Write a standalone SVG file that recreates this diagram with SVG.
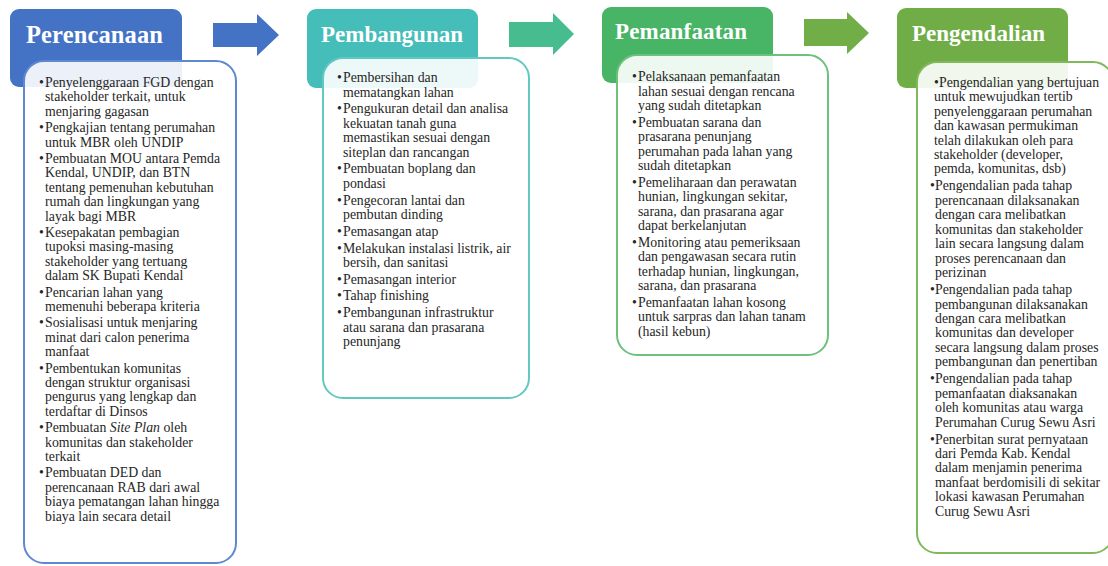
<svg xmlns="http://www.w3.org/2000/svg" width="1108" height="566" viewBox="0 0 1108 566">
<style>
.hd{font-family:"Liberation Serif","Times New Roman",serif;font-weight:bold;fill:#ffffff}
.t{font-family:"Liberation Serif","Times New Roman",serif;font-size:13.8px;fill:#262626}
.box{fill:#ffffff;fill-opacity:0.9;stroke-width:2}
</style>
<rect width="1108" height="566" fill="#ffffff"/>
<g id="connectors">
<polygon points="213,23 257,23 257,14 279,35 257,56 257,47 213,47" fill="#4472C4"/>
<polygon points="509,22 553,22 553,13 574,34 553,55 553,47 509,47" fill="#47BC8E"/>
<polygon points="804,19 847,19 847,12 869,33 847,54 847,46 804,46" fill="#72AE48"/>
</g>
<g id="perencanaan">
<rect x="10" y="9" width="172" height="78" rx="9" fill="#4472C4"/>
<text class="hd" x="26" y="43" font-size="24.5" textLength="137" lengthAdjust="spacing">Perencanaan</text>
<rect class="box" x="24" y="61" width="212" height="502" rx="20" stroke="#5F88D2"/>
<g class="t">
<text x="39" y="87">•</text><text x="45" y="87">Penyelenggaraan  FGD dengan</text>
<text x="45" y="101.4">stakeholder terkait, untuk</text>
<text x="45" y="115.8">menjaring gagasan</text>
<text x="39" y="132.2">•</text><text x="45" y="132.2">Pengkajian tentang perumahan</text>
<text x="45" y="146.6">untuk MBR oleh UNDIP</text>
<text x="39" y="163">•</text><text x="45" y="163">Pembuatan MOU antara Pemda</text>
<text x="45" y="177.4">Kendal, UNDIP, dan BTN</text>
<text x="45" y="191.8">tentang pemenuhan kebutuhan</text>
<text x="45" y="206.2">rumah dan lingkungan yang</text>
<text x="45" y="220.6">layak bagi MBR</text>
<text x="39" y="237">•</text><text x="45" y="237">Kesepakatan pembagian</text>
<text x="45" y="251.4">tupoksi masing-masing</text>
<text x="45" y="265.8">stakeholder yang tertuang</text>
<text x="45" y="280.2">dalam SK Bupati Kendal</text>
<text x="39" y="296.6">•</text><text x="45" y="296.6">Pencarian lahan yang</text>
<text x="45" y="311">memenuhi beberapa kriteria</text>
<text x="39" y="327.4">•</text><text x="45" y="327.4">Sosialisasi untuk menjaring</text>
<text x="45" y="341.8">minat dari calon penerima</text>
<text x="45" y="356.2">manfaat</text>
<text x="39" y="372.6">•</text><text x="45" y="372.6">Pembentukan komunitas</text>
<text x="45" y="387">dengan struktur organisasi</text>
<text x="45" y="401.4">pengurus yang lengkap dan</text>
<text x="45" y="415.8">terdaftar di Dinsos</text>
<text x="39" y="432.2">•</text><text x="45" y="432.2">Pembuatan <tspan font-style="italic">Site Plan</tspan> oleh</text>
<text x="45" y="446.6">komunitas dan stakeholder</text>
<text x="45" y="461">terkait</text>
<text x="39" y="477.4">•</text><text x="45" y="477.4">Pembuatan DED dan</text>
<text x="45" y="491.8">perencanaan RAB dari awal</text>
<text x="45" y="506.2">biaya pematangan lahan hingga</text>
<text x="45" y="520.6">biaya lain secara detail</text>
</g>
</g>
<g id="pembangunan">
<rect x="307" y="9" width="171" height="79" rx="9" fill="#45BDB9"/>
<text class="hd" x="321" y="41.5" font-size="23" textLength="142" lengthAdjust="spacing">Pembangunan</text>
<rect class="box" x="323" y="58" width="206" height="340" rx="20" stroke="#62C8C2"/>
<g class="t">
<text x="337" y="82">•</text><text x="343" y="82">Pembersihan dan</text>
<text x="343" y="96.5">mematangkan  lahan</text>
<text x="337" y="113.2">•</text><text x="343" y="113.2">Pengukuran detail dan analisa</text>
<text x="343" y="127.7">kekuatan tanah guna</text>
<text x="343" y="142.2">memastikan sesuai dengan</text>
<text x="343" y="156.7">siteplan dan rancangan</text>
<text x="337" y="173.4">•</text><text x="343" y="173.4">Pembuatan boplang dan</text>
<text x="343" y="187.9">pondasi</text>
<text x="337" y="204.6">•</text><text x="343" y="204.6">Pengecoran lantai dan</text>
<text x="343" y="219.1">pembutan dinding</text>
<text x="337" y="235.8">•</text><text x="343" y="235.8">Pemasangan atap</text>
<text x="337" y="252.5">•</text><text x="343" y="252.5">Melakukan instalasi listrik, air</text>
<text x="343" y="267">bersih, dan sanitasi</text>
<text x="337" y="283.7">•</text><text x="343" y="283.7">Pemasangan interior</text>
<text x="337" y="300.4">•</text><text x="343" y="300.4">Tahap finishing</text>
<text x="337" y="317.1">•</text><text x="343" y="317.1">Pembangunan infrastruktur</text>
<text x="343" y="331.6">atau sarana dan prasarana</text>
<text x="343" y="346.1">penunjang</text>
</g>
</g>
<g id="pemanfaatan">
<rect x="602" y="7" width="171" height="76" rx="9" fill="#48B466"/>
<text class="hd" x="615" y="38.5" font-size="23" textLength="132" lengthAdjust="spacing">Pemanfaatan</text>
<rect class="box" x="617" y="55" width="211" height="300" rx="20" stroke="#6CC27C"/>
<g class="t">
<text x="632" y="81">•</text><text x="638" y="81">Pelaksanaan pemanfaatan</text>
<text x="638" y="95.5">lahan sesuai dengan rencana</text>
<text x="638" y="110">yang  sudah ditetapkan</text>
<text x="632" y="126.5">•</text><text x="638" y="126.5">Pembuatan sarana dan</text>
<text x="638" y="141">prasarana penunjang</text>
<text x="638" y="155.5">perumahan pada lahan yang</text>
<text x="638" y="170">sudah ditetapkan</text>
<text x="632" y="186.5">•</text><text x="638" y="186.5">Pemeliharaan dan perawatan</text>
<text x="638" y="201">hunian, lingkungan sekitar,</text>
<text x="638" y="215.5">sarana, dan prasarana agar</text>
<text x="638" y="230">dapat berkelanjutan</text>
<text x="632" y="246.5">•</text><text x="638" y="246.5">Monitoring atau pemeriksaan</text>
<text x="638" y="261">dan pengawasan  secara rutin</text>
<text x="638" y="275.5">terhadap hunian, lingkungan,</text>
<text x="638" y="290">sarana, dan prasarana</text>
<text x="632" y="306.5">•</text><text x="638" y="306.5">Pemanfaatan lahan kosong</text>
<text x="638" y="321">untuk sarpras dan lahan tanam</text>
<text x="638" y="335.5">(hasil kebun)</text>
</g>
</g>
<g id="pengendalian">
<rect x="897" y="8" width="171" height="80" rx="9" fill="#70AD47"/>
<text class="hd" x="912" y="41" font-size="23" textLength="133" lengthAdjust="spacing">Pengendalian</text>
<rect class="box" x="917" y="62" width="196" height="491" rx="20" stroke="#80B95C"/>
<g class="t">
<text x="934" y="86.7">•</text><text x="939" y="86.7">Pengendalian yang  bertujuan</text>
<text x="934" y="101.2">untuk mewujudkan tertib</text>
<text x="934" y="115.6">penyelenggaraan  perumahan</text>
<text x="934" y="130.1">dan kawasan permukiman</text>
<text x="934" y="144.5">telah dilakukan oleh para</text>
<text x="934" y="159">stakeholder (developer,</text>
<text x="934" y="173.4">pemda, komunitas, dsb)</text>
<text x="930" y="190.4">•</text><text x="935" y="190.4">Pengendalian pada tahap</text>
<text x="935" y="204.8">perencanaan  dilaksanakan</text>
<text x="935" y="219.3">dengan cara melibatkan</text>
<text x="935" y="233.7">komunitas dan stakeholder</text>
<text x="935" y="248.2">lain secara langsung dalam</text>
<text x="935" y="262.6">proses perencanaan  dan</text>
<text x="935" y="277.1">perizinan</text>
<text x="930" y="294">•</text><text x="935" y="294">Pengendalian pada tahap</text>
<text x="935" y="308.5">pembangunan  dilaksanakan</text>
<text x="935" y="322.9">dengan cara melibatkan</text>
<text x="935" y="337.4">komunitas dan developer</text>
<text x="935" y="351.8">secara langsung dalam proses</text>
<text x="935" y="366.3">pembangunan  dan penertiban</text>
<text x="930" y="383.2">•</text><text x="935" y="383.2">Pengendalian pada tahap</text>
<text x="935" y="397.7">pemanfaatan  diaksanakan</text>
<text x="935" y="412.1">oleh komunitas atau warga</text>
<text x="935" y="426.6">Perumahan Curug Sewu Asri</text>
<text x="930" y="443.5">•</text><text x="935" y="443.5">Penerbitan surat pernyataan</text>
<text x="935" y="458">dari Pemda Kab. Kendal</text>
<text x="935" y="472.4">dalam menjamin penerima</text>
<text x="935" y="486.9">manfaat berdomisili di sekitar</text>
<text x="935" y="501.3">lokasi kawasan  Perumahan</text>
<text x="935" y="515.8">Curug Sewu Asri</text>
</g>
</g>
</svg>
